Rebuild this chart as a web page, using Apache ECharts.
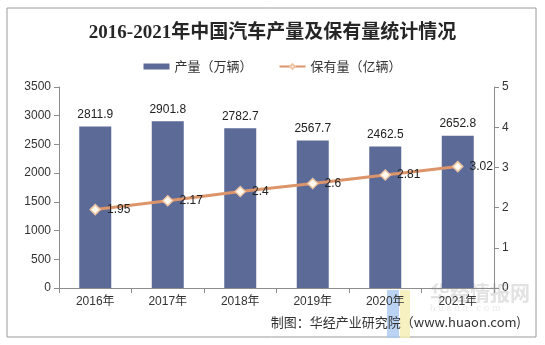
<!DOCTYPE html>
<html><head><meta charset="utf-8">
<script src="https://cdn.jsdelivr.net/npm/echarts@6/dist/echarts.min.js"></script>
<style>html,body{margin:0;padding:0;background:#fff}#c{width:545px;height:345px}</style>
</head><body><div id="c"></div>
<script>
var categories = ['2016年','2017年','2018年','2019年','2020年','2021年'];
var production = [2811.9, 2901.8, 2782.7, 2567.7, 2462.5, 2652.8];
var ownership = [1.95, 2.17, 2.4, 2.6, 2.81, 3.02];
var leftTicks = {min:0, max:3500, interval:500};
var rightTicks = {min:0, max:5, interval:1};
var titleText = '2016-2021年中国汽车产量及保有量统计情况';
var seriesNames = ['产量（万辆）','保有量（亿辆）'];
var sourceText = '制图：华经产业研究院（www.huaon.com)';

var sans = 'Liberation Sans, Arial, Noto Sans CJK SC, sans-serif';
var chart = echarts.init(document.getElementById('c'));
chart.setOption({
  animation:false,
  backgroundColor:'#fff',
  title:{text:titleText,left:'center',top:19,
    textStyle:{fontFamily:'Liberation Serif, Noto Sans CJK SC, serif',fontWeight:'bold',fontSize:19,color:'#262626'}},
  legend:{top:55,left:'center',itemGap:26,itemWidth:26,itemHeight:6,
    textStyle:{fontFamily:'Noto Sans CJK SC, sans-serif',fontSize:13,color:'#333'},
    data:[{name:seriesNames[0],icon:'rect'},{name:seriesNames[1]}]},
  grid:{left:59,right:51,top:87,bottom:57},
  xAxis:{type:'category',data:categories,
    axisLine:{lineStyle:{color:'#8c8c8c'}},
    axisTick:{show:true,lineStyle:{color:'#8c8c8c'}},
    axisLabel:{color:'#333',fontSize:12,fontFamily:sans,margin:8}},
  yAxis:[
    {type:'value',min:leftTicks.min,max:leftTicks.max,interval:leftTicks.interval,
      axisLine:{show:true,lineStyle:{color:'#8c8c8c'}},
      axisTick:{show:true,lineStyle:{color:'#8c8c8c'}},
      splitLine:{show:false},
      axisLabel:{color:'#333',fontSize:12,fontFamily:sans,margin:8,formatter:function(v){return String(v);}}},
    {type:'value',min:rightTicks.min,max:rightTicks.max,interval:rightTicks.interval,position:'right',
      axisLine:{show:true,lineStyle:{color:'#8c8c8c'}},
      axisTick:{show:true,lineStyle:{color:'#8c8c8c'}},
      splitLine:{show:false},
      axisLabel:{color:'#333',fontSize:12,fontFamily:sans,margin:8,formatter:function(v){return String(v);}}}
  ],
  series:[
    {name:seriesNames[0],type:'bar',data:production,barWidth:32,
      itemStyle:{color:'#5c6a98'},
      label:{show:true,position:'top',distance:6,color:'#222',fontSize:12,fontFamily:sans}},
    {name:seriesNames[1],type:'line',yAxisIndex:1,data:ownership,
      symbol:'diamond',symbolSize:10,
      lineStyle:{color:'#dc946a',width:3},
      itemStyle:{color:'#fffaf0',borderColor:'#eec6a4',borderWidth:1.5},
      label:{show:true,position:'right',distance:6,color:'#222',fontSize:12,fontFamily:sans},
      z:5}
  ],
  graphic:[
    {type:'rect',shape:{x:7,y:8,width:529,height:329},style:{fill:'none',stroke:'#9a9a9a',lineWidth:1},silent:true,z:-1},
    {type:'rect',shape:{x:387,y:290,width:12,height:48},style:{fill:'#a9c8f0',opacity:0.8},z:-1},
    {type:'rect',shape:{x:400,y:290,width:10,height:48},style:{fill:'#f5ecb0',opacity:0.8},z:-1},
    {type:'text',x:430,y:283,style:{text:'华经情报网',fill:'#e2e2e2',font:'bold 20px "Noto Sans CJK SC"'},z:-1},
    {type:'text',x:430,y:303,style:{text:'h u a o n . c o m',fill:'#ececec',font:'11px "Liberation Serif"'},z:-1},
    {type:'text',right:24,top:316,style:{text:sourceText,fill:'#333',font:'13px "Noto Sans CJK SC", "Liberation Sans"'}}
  ]
});
</script></body></html>
